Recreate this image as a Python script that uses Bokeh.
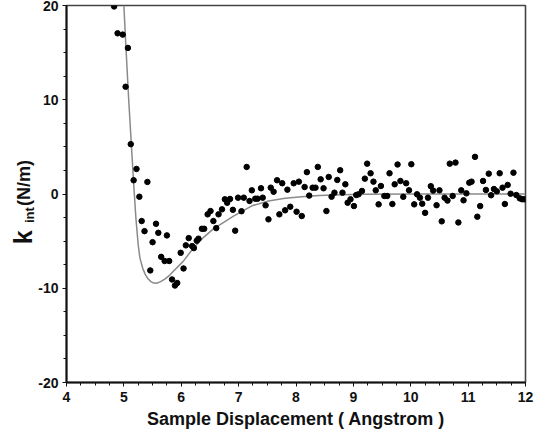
import math
from bokeh.plotting import figure
from bokeh.layouts import row
from bokeh.models import Range1d, SingleIntervalTicker
from bokeh.core.properties import value
from bokeh.embed import file_html
from bokeh.resources import INLINE

# ---- data ----
disp_x = [
    4.83, 4.89, 4.98, 5.07, 5.03, 5.12, 5.22, 5.17, 5.41, 5.27,
    5.31, 5.56, 5.36, 5.60, 5.75, 5.50, 5.65, 5.71, 5.79, 5.46,
    5.84, 5.89, 5.93, 6.04, 5.99, 6.08, 6.13, 6.19, 6.22, 6.27,
    6.30, 6.36, 6.40, 6.61, 6.56, 6.46, 6.51, 6.65, 6.71, 6.76,
    6.80, 6.85, 6.90, 6.99, 6.94, 7.05, 7.09, 7.14, 7.19, 7.23,
    7.29, 7.33, 7.39, 7.42, 7.47, 7.52, 7.56, 7.61, 7.67, 7.76,
    7.71, 7.81, 7.85, 7.90, 7.96, 8.05, 8.01, 8.10, 8.15, 8.19,
    8.23, 8.29, 8.34, 8.38, 8.43, 8.48, 8.53, 8.57, 8.62, 8.67,
    8.72, 8.77, 8.81, 8.86, 8.90, 8.95, 9.01, 9.05, 9.09, 9.15,
    9.20, 9.24, 9.30, 9.35, 9.39, 9.44, 9.48, 9.54, 9.59, 9.63,
    9.68, 9.72, 9.77, 9.82, 9.87, 9.92, 9.97, 10.01, 10.06, 10.11,
    10.16, 10.20, 10.25, 10.30, 10.35, 10.39, 10.45, 10.50, 10.54, 10.59,
    10.64, 10.68, 10.73, 10.78, 10.83, 10.88, 10.92, 10.97, 11.02, 11.06,
    11.12, 11.16, 11.21, 11.26, 11.31, 11.36, 11.40, 11.45, 11.50, 11.55,
    11.60, 11.64, 11.69, 11.74, 11.79, 11.84, 11.90, 11.94, 11.98,
]
k_int = [
    19.9, 17.05, 16.91, 15.5, 11.38, 5.29, 2.66, 1.46, 1.28, -0.29,
    -2.87, -3.16, -3.94, -4.12, -4.39, -5.11, -6.67, -7.11, -7.11, -8.11,
    -9.07, -9.71, -9.44, -7.90, -6.24, -5.45, -4.68, -5.53, -5.74, -4.96,
    -4.74, -3.69, -3.69, -3.62, -2.87, -2.16, -1.81, -2.16, -1.63, -0.56,
    -0.93, -0.53, -1.68, -0.39, -3.89, -1.83, -0.39, 2.87, -0.74, 0.39,
    -0.50, -0.50, 0.61, -0.39, -1.20, -2.69, 0.67, 0.24, 1.46, 1.14,
    -2.16, -1.73, 0.46, -1.35, 1.14, 1.31, -1.88, -2.34, 0.74, 2.32,
    -0.17, 0.67, 0.67, 2.87, 1.56, 0.61, -1.81, 1.81, -0.29, 0.14,
    1.49, 2.52, 0.14, 1.03, -0.93, -0.56, -1.28, -0.11, -0.03, 0.32,
    1.63, 3.22, 2.20, 1.31, 0.39, -1.10, 0.85, -0.21, -0.21, 2.20,
    -1.06, 1.03, 3.13, 1.38, -0.30, 1.14, 0.39, 3.16, -1.10, -0.03,
    -0.39, -1.03, -2.00, -0.39, 0.83, 0.36, -1.19, 0.39, -2.90, -0.39,
    -0.70, 3.22, -0.21, 3.33, -3.02, 0.39, -0.67, 0.07, 1.20, 1.31,
    3.94, -2.41, -1.28, 1.38, 0.43, 2.16, -0.13, 0.53, 0.28, 2.20,
    0.67, -1.06, 0.96, 0.03, 2.26, -0.11, -0.46, -0.56, -0.56,
]
fit_x = [
    5.00, 5.04, 5.085, 5.13, 5.16, 5.18, 5.21, 5.25, 5.28, 5.33,
    5.37, 5.42, 5.47, 5.52, 5.57, 5.64, 5.72, 5.80, 5.88, 5.96,
    6.04, 6.21, 6.39, 6.56, 6.74, 6.91, 7.03, 7.23, 7.52, 7.81,
    8.10, 8.40, 8.80, 9.20, 10.0, 11.0, 12.0,
]
fit_y = [
    20.0, 15.1, 9.9, 5.3, 2.2, 0.2, -2.6, -5.4, -6.8, -7.9,
    -8.5, -9.0, -9.3, -9.45, -9.47, -9.3, -9.0, -8.6, -8.1, -7.6,
    -7.1, -5.75, -4.6, -3.7, -3.0, -2.35, -1.95, -1.25, -0.75, -0.46,
    -0.29, -0.17, -0.08, -0.03, 0.0, 0.0, 0.0,
]
x_label = "Sample Displacement ( Angstrom )"
y_label_parts = ["k", "int", "(N/m)"]

FONT = "Liberation Sans"
INK = "#111111"
H = 435
STRIP = 35

# ---- main plot ----
p = figure(width=547 - STRIP, height=H, output_backend="svg", toolbar_location=None,
           x_range=Range1d(4, 12), y_range=Range1d(-20, 20),
           min_border_left=28, min_border_right=22,
           min_border_top=5, min_border_bottom=53)
p.grid.visible = False
p.background_fill_color = "white"
p.border_fill_color = "white"
p.outline_line_color = "#444444"
p.outline_line_width = 1.6

p.xaxis.ticker = SingleIntervalTicker(interval=1, num_minor_ticks=4)
p.yaxis.ticker = SingleIntervalTicker(interval=10, num_minor_ticks=4)
for ax in (p.xaxis[0], p.yaxis[0]):
    ax.axis_line_color = INK
    ax.axis_line_width = 2
    ax.major_tick_line_color = INK
    ax.minor_tick_line_color = INK
    ax.major_tick_in = 0
    ax.major_tick_out = 4
    ax.minor_tick_in = 0
    ax.minor_tick_out = 3
    ax.major_label_text_font = FONT
    ax.major_label_text_font_style = "bold"
    ax.major_label_text_font_size = "14px"
    ax.major_label_text_color = INK
    ax.major_label_standoff = 5
p.yaxis[0].major_label_standoff = 4
p.yaxis.major_label_overrides = {-20: "-20", -10: "-10"}

p.xaxis.axis_label = x_label
p.xaxis.axis_label_text_font = FONT
p.xaxis.axis_label_text_font_style = "bold"
p.xaxis.axis_label_text_font_size = "18px"
p.xaxis.axis_label_text_color = INK
p.xaxis.axis_label_standoff = 4

p.line(fit_x, fit_y, line_color="#8a8a8a", line_width=1.5)
p.scatter(disp_x, k_int, size=5.5, fill_color="black", line_color="black")

# ---- narrow strip holding the y-axis title (k with subscript "int", then (N/m)) ----
# its frame is aligned with the main frame, so it shares the k_int scale vertically
lab = figure(width=STRIP, height=H, output_backend="svg", toolbar_location=None,
             x_range=Range1d(0, STRIP), y_range=Range1d(-20, 20),
             x_axis_type=None, y_axis_type=None, min_border=0)
lab.grid.visible = False
lab.outline_line_color = None
lab.background_fill_color = "white"
lab.border_fill_color = "white"
common = dict(angle=math.pi / 2, text_font=value(FONT), text_font_style="bold",
              text_color=INK, text_align="left", text_baseline="alphabetic")
lab.text(x=[22.5], y=[-5.32], text=[y_label_parts[0]], text_font_size="25px", **common)
lab.text(x=[29.0], y=[-3.09], text=[y_label_parts[1]], text_font_size="13px", **common)
lab.text(x=[23.0], y=[-1.28], text=[y_label_parts[2]], text_font_size="18px", **common)

layout = row(lab, p, spacing=0)
open("out.html", "w").write(file_html(layout, INLINE))
